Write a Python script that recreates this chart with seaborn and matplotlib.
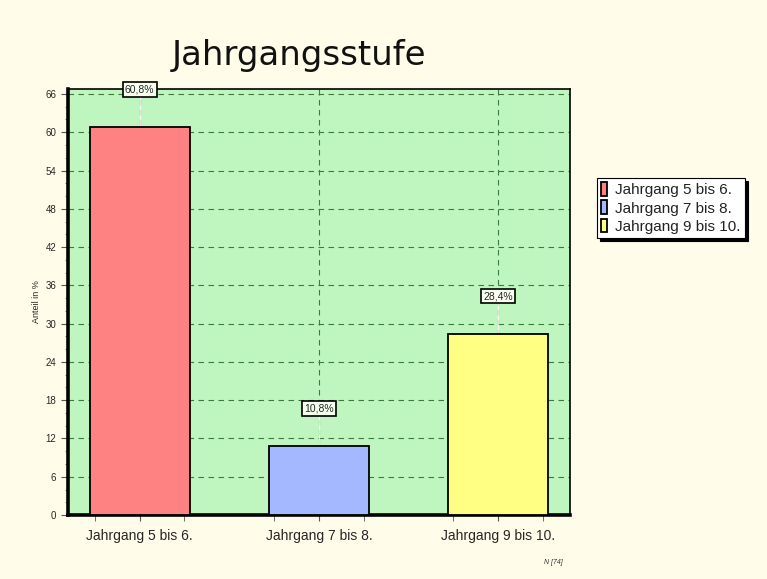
import seaborn as sns
import matplotlib
matplotlib.use("Agg")
import matplotlib.pyplot as plt
import pandas as pd
import numpy as np

categories = ["Jahrgang 5 bis 6.", "Jahrgang 7 bis 8.", "Jahrgang 9 bis 10."]
values = [60.8, 10.8, 28.4]
value_labels = ["60,8%", "10,8%", "28,4%"]
colors = ["#FF8282", "#A3B8FF", "#FFFF84"]
yticks = list(range(0, 67, 6))

df = pd.DataFrame({"Kategorie": categories, "Anteil": values})

sns.set_style("white")
plt.rcParams['font.family'] = ['Liberation Sans', 'DejaVu Sans']

fig = plt.figure(figsize=(7.67, 5.79), dpi=100, facecolor="#FFFDE9")
ax = fig.add_axes([0.0887, 0.1105, 0.654, 0.736])
ax.set_facecolor("#BFF6BF")

sns.barplot(data=df, x="Kategorie", y="Anteil", hue="Kategorie", palette=colors,
            width=0.56, edgecolor="black", linewidth=1.3, legend=True,
            saturation=1, ax=ax, zorder=3)

ax.set_xlim(-0.4, 2.4)
ax.set_ylim(0, 66.8)
ax.set_yticks(yticks)
ax.set_yticks(np.arange(0, 67, 2), minor=True)
ax.set_xticks([-0.25, 0.25, 0.75, 1.25, 1.75, 2.25], minor=True)
ax.tick_params(axis="y", which="major", labelsize=7, length=5, color="#555555", direction="out", left=True)
ax.tick_params(axis="y", which="minor", length=2, color="#777777", left=True)
ax.tick_params(axis="x", which="major", labelsize=10, length=4, color="#555555", bottom=True, pad=6)
ax.tick_params(axis="x", which="minor", length=4, color="#555555", bottom=True)

ax.grid(True, which="major", axis="both", linestyle=(0, (5, 4)), color="#3D7A3D", linewidth=0.8, zorder=1)
ax.set_axisbelow(True)

for side in ["left", "bottom"]:
    ax.spines[side].set_linewidth(2.6)
    ax.spines[side].set_color("black")
for side in ["top", "right"]:
    ax.spines[side].set_linewidth(1.2)
    ax.spines[side].set_color("black")

ax.set_xlabel("")
ax.set_ylabel("Anteil in %", fontsize=6.5, labelpad=3)

for i, (v, lab) in enumerate(zip(values, value_labels)):
    ax.vlines(i, v, v + 5.9, color="white", linewidth=0.8, alpha=0.8, zorder=2)
    ax.text(i, v + 5.9, lab, ha="center", va="center", fontsize=7.5, zorder=5,
            bbox=dict(boxstyle="square,pad=0.2", facecolor="#F8FFF0", edgecolor="black", linewidth=1.2))

fig.text(0.39, 0.905, "Jahrgangsstufe", ha="center", va="center", fontsize=24.5,
         family="DejaVu Sans", color="#111111")
fig.text(0.734, 0.029, "N [74]", ha="right", va="center", fontsize=5, style="italic", color="#333333")

handles, labels = ax.get_legend_handles_labels()
leg = ax.legend(handles, labels, loc="upper left", bbox_to_anchor=(0.778, 0.693),
                bbox_transform=fig.transFigure, fontsize=11, frameon=True, fancybox=False,
                shadow={"color": "black", "alpha": 1}, edgecolor="black", framealpha=1,
                handlelength=0.4, handleheight=1.0, handletextpad=0.5, borderpad=0.3,
                labelspacing=0.2, borderaxespad=0)
leg.get_frame().set_linewidth(0.8)
for t in leg.get_texts():
    t.set_color("#222222")

fig.savefig("out.png", dpi=100, facecolor=fig.get_facecolor())
